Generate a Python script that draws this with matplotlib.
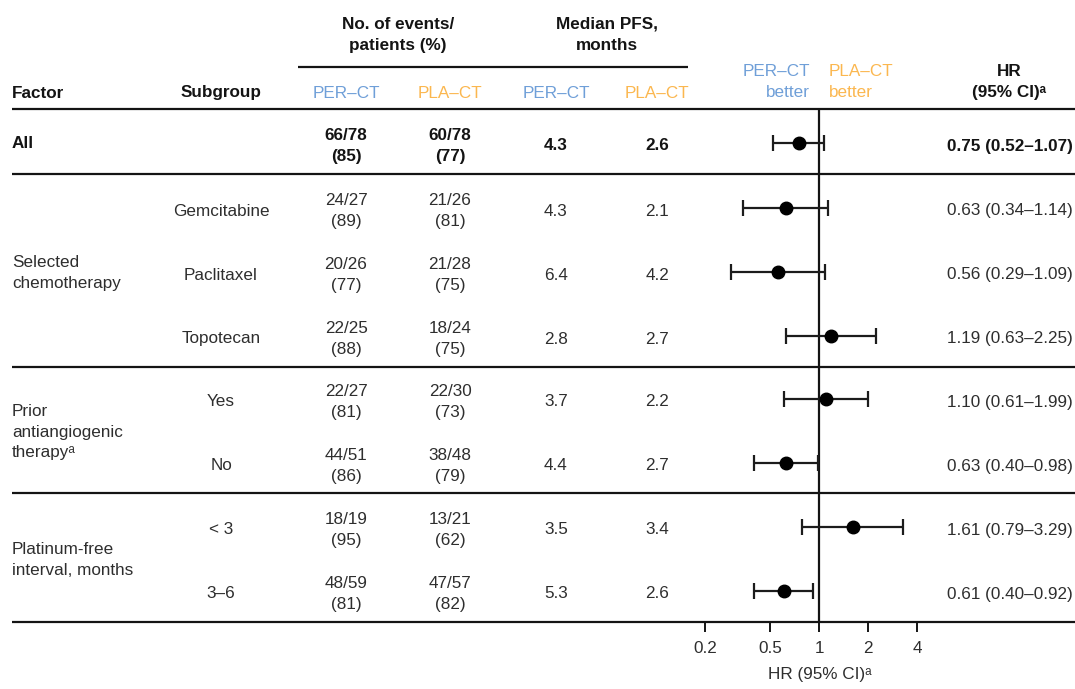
import numpy as np
import matplotlib
matplotlib.use("Agg")
import matplotlib.pyplot as plt

plt.rcParams["font.family"] = ["Liberation Sans", "DejaVu Sans"]

# ---- data -----------------------------------------------------------------
subgroups = ["", "Gemcitabine", "Paclitaxel", "Topotecan", "Yes", "No", "< 3", "3–6"]
factors = ["All", "Selected\nchemotherapy",
           "Prior\nantiangiogenic\ntherapyᵃ",
           "Platinum-free\ninterval, months"]
factor_rows = [[0], [1, 2, 3], [4, 5], [6, 7]]

per_events = [66, 24, 20, 22, 22, 44, 18, 48]
per_patients = [78, 27, 26, 25, 27, 51, 19, 59]
per_pct = [85, 89, 77, 88, 81, 86, 95, 81]
pla_events = [60, 21, 21, 18, 22, 38, 13, 47]
pla_patients = [78, 26, 28, 24, 30, 48, 21, 57]
pla_pct = [77, 81, 75, 75, 73, 79, 62, 82]

per_median = [4.3, 4.3, 6.4, 2.8, 3.7, 4.4, 3.5, 5.3]
pla_median = [2.6, 2.1, 4.2, 2.7, 2.2, 2.7, 3.4, 2.6]

hr = np.array([0.75, 0.63, 0.56, 1.19, 1.10, 0.63, 1.61, 0.61])
hr_lo = np.array([0.52, 0.34, 0.29, 0.63, 0.61, 0.40, 0.79, 0.40])
hr_hi = np.array([1.07, 1.14, 1.09, 2.25, 1.99, 0.98, 3.29, 0.92])

x_ticks = [0.2, 0.5, 1, 2, 4]
x_ticklabels = ["0.2", "0.5", "1", "2", "4"]

# ---- layout (pixel coordinates, origin top-left) ---------------------------
W, H = 1075, 689
row_y = [146, 211, 275, 339, 402, 466, 530, 594]
point_shift = -3.5
x_factor, x_sub = 12, 221
x_ev_per, x_ev_pla = 346, 450
x_med_per, x_med_pla = 556, 657
x_hr_right = 1073
rule_full = [109, 174, 367, 493, 622]
line_left, line_right = 12, 1075

# forest panel: value 1 at x=819 px, 163 px per decade
one_px, decade_px = 819, 163
fx0, fx1 = 680, 960
fy0, fy1 = 109, 622

BLUE = "#6f9fd8"
ORANGE = "#fbb74f"
TXT = "#2e2e2e"
DARK = "#141414"
FS = 12.3
LS = 1.58

fig = plt.figure(figsize=(W / 100, H / 100), dpi=100)
ax = fig.add_axes([0, 0, 1, 1])
ax.set_xlim(0, W)
ax.set_ylim(H, 0)
ax.axis("off")

# ---- header ---------------------------------------------------------------
ax.text(398, 35, "No. of events/\npatients (%)", ha="center", va="center",
        fontsize=FS, fontweight="bold", color=DARK, linespacing=LS)
ax.text(607, 35, "Median PFS,\nmonths", ha="center", va="center",
        fontsize=FS, fontweight="bold", color=DARK, linespacing=LS)
ax.plot([298, 688], [67, 67], color=DARK, lw=1.6, solid_capstyle="butt")

ax.text(x_factor, 93, "Factor", ha="left", va="center", fontsize=FS,
        fontweight="bold", color=DARK)
ax.text(x_sub, 93, "Subgroup", ha="center", va="center", fontsize=FS,
        fontweight="bold", color=DARK)
for x, lab, c in [(x_ev_per, "PER–CT", BLUE), (x_ev_pla, "PLA–CT", ORANGE),
                  (x_med_per, "PER–CT", BLUE), (x_med_pla, "PLA–CT", ORANGE)]:
    ax.text(x, 93, lab, ha="center", va="center", fontsize=FS, color=c)

ax.text(810, 82, "PER–CT\nbetter", ha="right", va="center", multialignment="right",
        fontsize=FS, color=BLUE, linespacing=LS)
ax.text(829, 82, "PLA–CT\nbetter", ha="left", va="center", multialignment="left",
        fontsize=FS, color=ORANGE, linespacing=LS)
ax.text(1009, 82, "HR\n(95% CI)ᵃ", ha="center", va="center",
        fontsize=FS, fontweight="bold", color=DARK, linespacing=LS)

# ---- horizontal rules -----------------------------------------------------
for y in rule_full:
    ax.plot([line_left, line_right], [y, y], color=DARK, lw=1.6,
            solid_capstyle="butt")

# ---- table body -----------------------------------------------------------
for lab, rows in zip(factors, factor_rows):
    yc = np.mean([row_y[r] for r in rows]) - 2
    bold = lab == "All"
    ax.text(x_factor, yc, lab, ha="left", va="center", fontsize=FS,
            fontweight="bold" if bold else "normal",
            color=DARK if bold else TXT, linespacing=1.5)

for i, y in enumerate(row_y):
    bold = i == 0
    fw = "bold" if bold else "normal"
    col = DARK if bold else TXT
    if subgroups[i]:
        ax.text(x_sub, y, subgroups[i], ha="center", va="center",
                fontsize=FS, color=col, fontweight=fw)
    ax.text(x_ev_per, y, f"{per_events[i]}/{per_patients[i]}\n({per_pct[i]})",
            ha="center", va="center", fontsize=FS, color=col, fontweight=fw,
            linespacing=LS)
    ax.text(x_ev_pla, y, f"{pla_events[i]}/{pla_patients[i]}\n({pla_pct[i]})",
            ha="center", va="center", fontsize=FS, color=col, fontweight=fw,
            linespacing=LS)
    ax.text(x_med_per, y, f"{per_median[i]:.1f}", ha="center", va="center",
            fontsize=FS, color=col, fontweight=fw)
    ax.text(x_med_pla, y, f"{pla_median[i]:.1f}", ha="center", va="center",
            fontsize=FS, color=col, fontweight=fw)
    ax.text(x_hr_right, y,
            f"{hr[i]:.2f} ({hr_lo[i]:.2f}–{hr_hi[i]:.2f})",
            ha="right", va="center", fontsize=FS, color=col, fontweight=fw)

# ---- forest panel ---------------------------------------------------------
fax = fig.add_axes([fx0 / W, 1 - fy1 / H, (fx1 - fx0) / W, (fy1 - fy0) / H])
fax.patch.set_alpha(0)
fax.set_xscale("log")
fax.set_xlim(10 ** ((fx0 - one_px) / decade_px), 10 ** ((fx1 - one_px) / decade_px))
fax.set_ylim(fy1, fy0)
for s in fax.spines.values():
    s.set_visible(False)

fax.axvline(1, color=DARK, lw=1.6)
pts_y = np.array(row_y) + point_shift
fax.errorbar(hr, pts_y, xerr=[hr - hr_lo, hr_hi - hr], fmt="o", ms=9,
             color="black", ecolor="#1c1c1c", elinewidth=1.6, capsize=6,
             capthick=1.6, zorder=3)

fax.set_yticks([])
fax.set_xticks(x_ticks)
fax.set_xticklabels(x_ticklabels)
fax.xaxis.set_minor_locator(matplotlib.ticker.NullLocator())
fax.tick_params(axis="x", direction="out", length=7.5, width=1.4,
                color=DARK, labelsize=FS, labelcolor=TXT, pad=6)
fax.set_xlabel("HR (95% CI)ᵃ", fontsize=FS, color=TXT, labelpad=8)

fig.savefig("out.png", dpi=100)
